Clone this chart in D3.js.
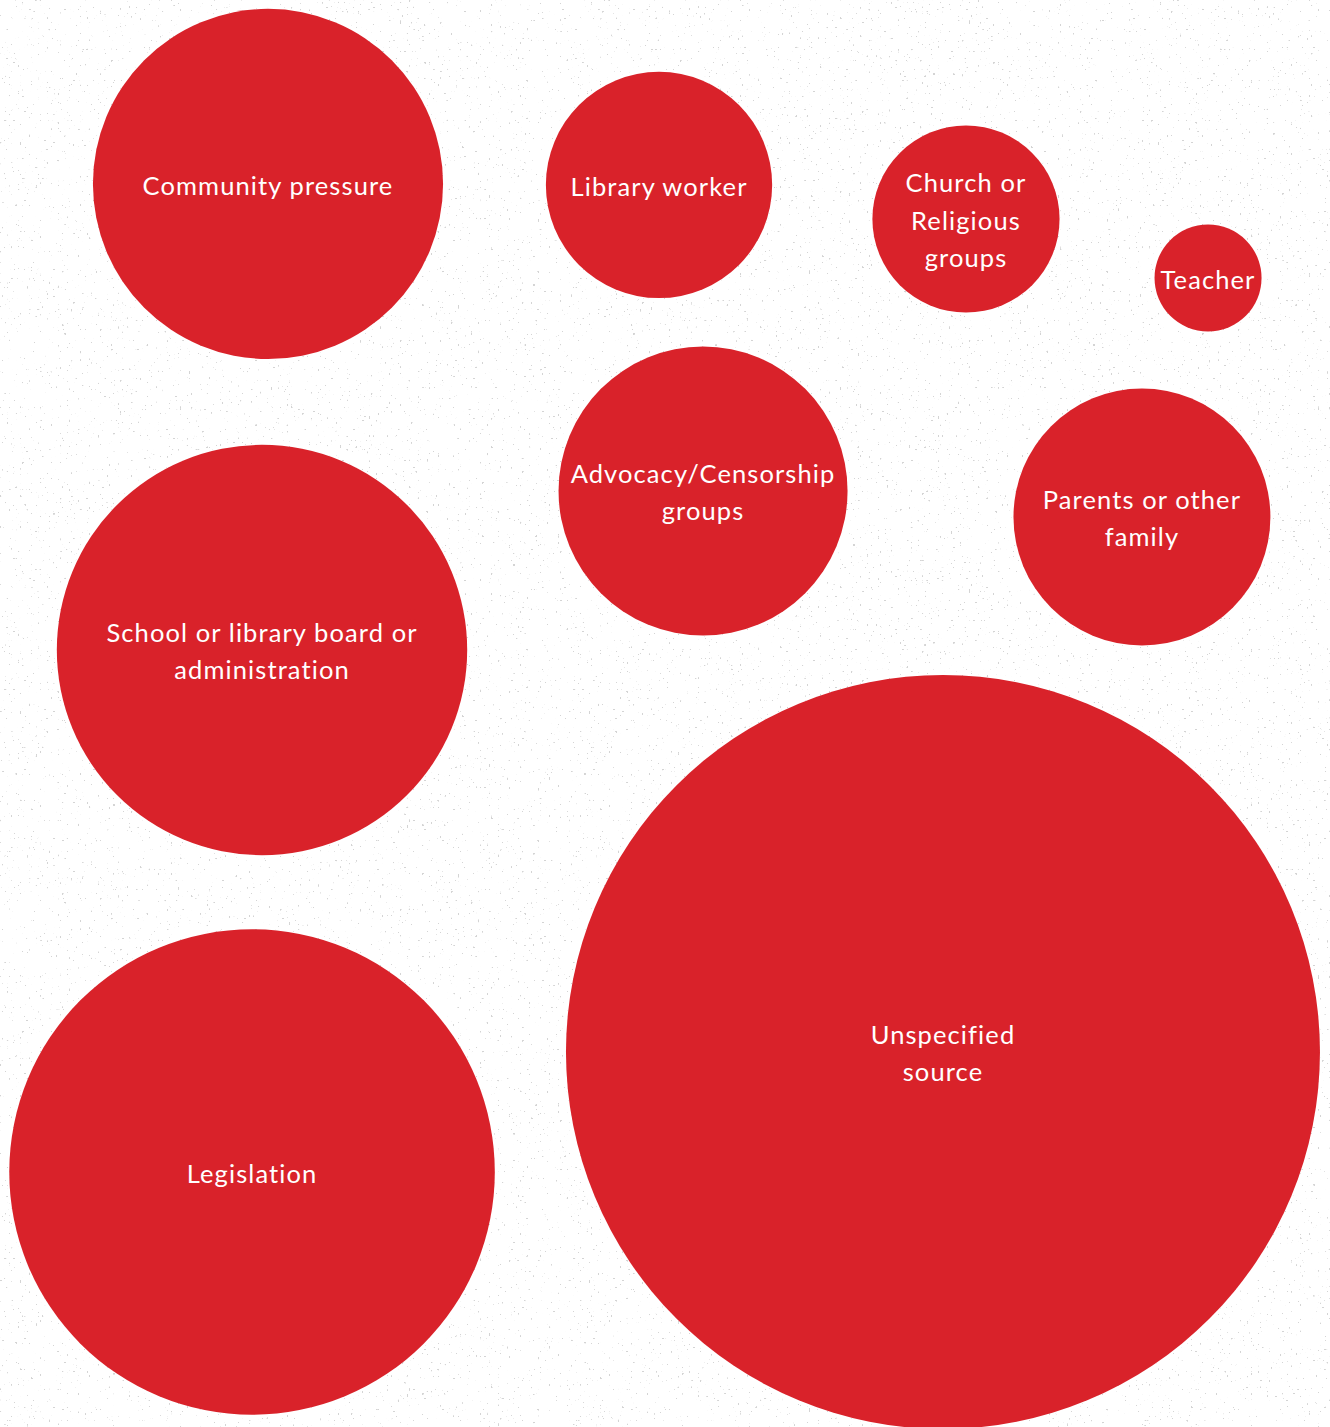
<!DOCTYPE html>
<html>
<head>
<meta charset="utf-8">
<script src="https://cdn.jsdelivr.net/npm/d3@7"></script>
<style>
  body { margin: 0; background: #fff; }
  #chart text { font-family: "Lato", "Open Sans", sans-serif; }
</style>
</head>
<body>
<div id="chart"></div>
<script>
// share of challenges by source (%)
const sources = ["Community pressure", "Library worker", "Church or Religious groups", "Teacher",
  "Advocacy/Censorship groups", "Parents or other family", "School or library board or administration",
  "Legislation", "Unspecified source"];
const shares = [9.1, 3.8, 2.6, 0.85, 6.2, 4.9, 12.5, 17.5, 42.2];
// label line breaks as in the original
const labelLines = [["Community pressure"], ["Library worker"], ["Church or", "Religious", "groups"], ["Teacher"],
  ["Advocacy/Censorship", "groups"], ["Parents or other", "family"], ["School or library board or", "administration"],
  ["Legislation"], ["Unspecified", "source"]];
// hand placed layout, in percent of the canvas
const layoutX = [20.15, 49.55, 72.63, 90.83, 52.86, 85.86, 19.70, 18.95, 70.90];
const layoutY = [12.89, 12.96, 15.35, 19.48, 34.41, 36.23, 45.55, 82.13, 73.72];

function drawBubbles() {
    const width = 1330;
    const height = 1427;

    d3.select("#chart").selectAll("*").remove();

    const data = sources.map((s, i) => ({ source: s, share: shares[i], lines: labelLines[i], lx: layoutX[i], ly: layoutY[i] }));

    const svg = d3.select("#chart")
        .append("svg")
        .attr("width", width)
        .attr("height", height);

    // sparse grey specks on white, like the paper texture behind the original
    const defs = svg.append("defs");
    const filter = defs.append("filter").attr("id", "speckle")
        .attr("x", 0).attr("y", 0).attr("width", "100%").attr("height", "100%")
        .attr("color-interpolation-filters", "sRGB");
    filter.append("feTurbulence").attr("type", "fractalNoise").attr("baseFrequency", 0.45).attr("numOctaves", 1).attr("seed", 7).attr("result", "noise");
    filter.append("feColorMatrix").attr("in", "noise").attr("type", "matrix")
        .attr("values", "0 0 0 0 0.72  0 0 0 0 0.72  0 0 0 0 0.72  30 0 0 0 -21")
        .attr("result", "dots");
    filter.append("feComposite").attr("in", "dots").attr("in2", "SourceGraphic").attr("operator", "in");

    svg.append("rect").attr("width", width).attr("height", height).attr("fill", "#fff");
    svg.append("rect").attr("width", width).attr("height", height).attr("fill", "#fff").attr("filter", "url(#speckle)").style("opacity", 0.6);

    const x = d3.scaleLinear().domain([0, 100]).range([0, width]);
    const y = d3.scaleLinear().domain([0, 100]).range([0, height]);
    const r = d3.scaleSqrt().domain([0, d3.max(data, d => d.share)]).range([0, 377]);

    const bubbles = svg.selectAll(".bubble")
        .data(data)
        .enter()
        .append("g")
        .attr("class", "bubble")
        .attr("transform", d => `translate(${x(d.lx)},${y(d.ly)})`);

    bubbles.append("circle")
        .attr("r", d => r(d.share))
        .attr("fill", "#d9222a");

    const lineHeight = 37.5;
    bubbles.append("text")
        .attr("text-anchor", "middle")
        .attr("fill", "#fff")
        .style("font-size", "25.5px")
        .style("letter-spacing", "1.1px")
        .selectAll("tspan")
        .data(d => d.lines.map((t, i) => ({ t, i, n: d.lines.length })))
        .enter()
        .append("tspan")
        .attr("x", 0)
        .attr("y", d => (d.i - (d.n - 1) / 2) * lineHeight)
        .attr("dy", "0.42em")
        .text(d => d.t);
}

document.addEventListener("DOMContentLoaded", function () {
    drawBubbles();
});
</script>
</body>
</html>
